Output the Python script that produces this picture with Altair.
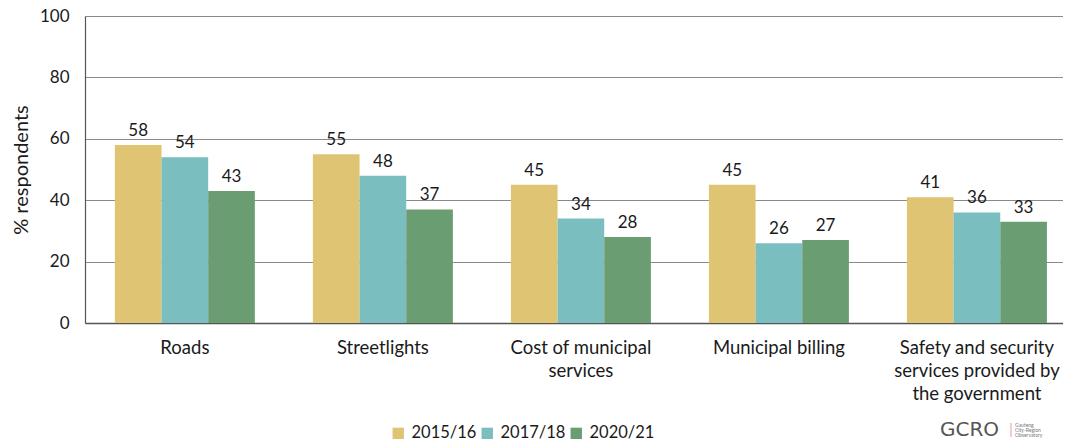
import altair as alt
import pandas as pd

categories = ["Roads", "Streetlights", "Cost of municipal|services", "Municipal billing",
              "Safety and security|services provided by|the government"]
years = ["2015/16", "2017/18", "2020/21"]
v2015 = [58, 55, 45, 45, 41]
v2017 = [54, 48, 34, 26, 36]
v2020 = [43, 37, 28, 27, 33]
colors = ["#DFC473", "#7BBEBF", "#6B9D72"]

rows = []
for i, c in enumerate(categories):
    for y, vals in zip(years, [v2015, v2017, v2020]):
        rows.append({"category": c, "year": y, "value": vals[i]})
df = pd.DataFrame(rows)

FONT = "Lato"
TXT = "#1a1a1a"

x = alt.X("category:N", sort=categories, title=None,
          scale=alt.Scale(paddingInner=0.293, paddingOuter=0.116, align=0.65),
          axis=alt.Axis(labelExpr="split(datum.value, '|')", labelAngle=0, labelFontSize=18.5,
                        labelFont=FONT, labelColor=TXT, labelPadding=15, labelLimit=300,
                        labelLineHeight=23, ticks=False, domainColor="#555", domainWidth=1.5,
                        labelBaseline="top"))
xo = alt.XOffset("year:N", sort=years, scale=alt.Scale(paddingInner=0, paddingOuter=0))

bars = alt.Chart(df).mark_bar().encode(
    x=x, xOffset=xo,
    y=alt.Y("value:Q", scale=alt.Scale(domain=[0, 100]),
            title="% respondents",
            axis=alt.Axis(values=[0, 20, 40, 60, 80, 100], ticks=False, labelFontSize=17,
                          labelFont=FONT, labelColor=TXT, labelPadding=16,
                          titleFont=FONT, titleFontSize=20, titleFontWeight="normal",
                          titleColor=TXT, titlePadding=8, gridColor="#8a8a8a",
                          gridWidth=1.2, domainColor="#555", domainWidth=1.2)),
    color=alt.Color("year:N", sort=years, scale=alt.Scale(domain=years, range=colors),
                    legend=alt.Legend(title=None, orient="none", direction="horizontal",
                                      legendX=305, legendY=409, symbolType="square",
                                      symbolSize=130, symbolStrokeWidth=0, labelFontSize=16.5,
                                      labelFont=FONT, labelColor=TXT, columnPadding=2,
                                      labelOffset=5, symbolOpacity=1)),
)

labels = alt.Chart(df).mark_text(dy=-14, fontSize=17, font=FONT, color=TXT).encode(
    x=x, xOffset=xo, y="value:Q", text="value:Q"
)

logo = alt.Chart(pd.DataFrame({"t": ["GCRO"]})).mark_text(
    font="DejaVu Sans", fontSize=20, color="#555", align="left", baseline="middle"
).encode(text="t:N", x=alt.value(855), y=alt.value(414))

sep = alt.Chart(pd.DataFrame({"a": [0]})).mark_rule(color="#d9a0a0", strokeWidth=1).encode(
    x=alt.value(926), y=alt.value(407), y2=alt.value(421))

sub_texts = ["Gauteng", "City-Region", "Observatory"]
sub_layers = []
for k, t in enumerate(sub_texts):
    sub_layers.append(
        alt.Chart(pd.DataFrame({"t": [t]})).mark_text(
            font=FONT, fontSize=5, color="#777", align="left", baseline="middle"
        ).encode(text="t:N", x=alt.value(930), y=alt.value(409 + 5 * k))
    )

chart = alt.layer(bars, labels, logo, sep, *sub_layers).properties(
    width=978, height=307,
    autosize=alt.AutoSizeParams(type="none"),
    padding={"left": 77, "top": 8, "right": 0, "bottom": 116},
).configure_view(stroke=None).configure_axis(grid=True).configure_axisX(grid=False)

chart.save("out.html", embed_options={"renderer": "svg", "actions": False})
